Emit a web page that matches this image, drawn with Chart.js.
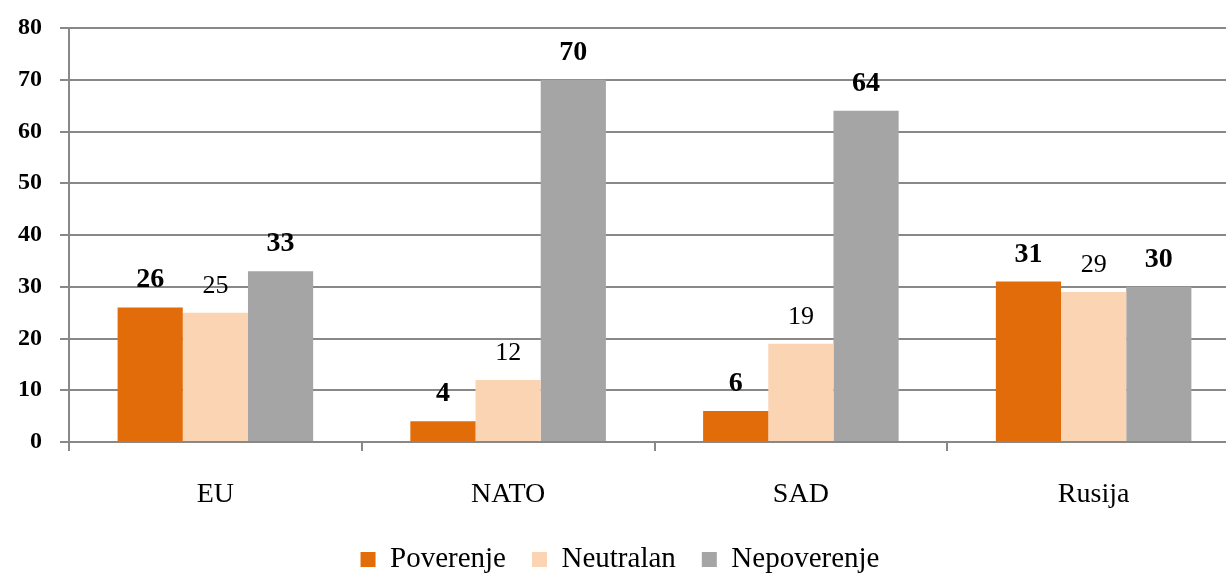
<!DOCTYPE html>
<html>
<head>
<meta charset="utf-8">
<script src="https://cdn.jsdelivr.net/npm/chart.js@4"></script>
<style>
  html, body { margin: 0; padding: 0; overflow: hidden; background: #fff; }
</style>
</head>
<body>
<canvas id="barChart" width="1240" height="574"></canvas>
<script>
var categories = ["EU", "NATO", "SAD", "Rusija"];
var poverenje = [26, 4, 6, 31];
var neutralan = [25, 12, 19, 29];
var nepoverenje = [33, 70, 64, 30];
var yTicks = [0, 10, 20, 30, 40, 50, 60, 70, 80];

var FONT = "'Liberation Serif', 'DejaVu Serif', serif";

// vrednosti iznad stubova
var valueLabels = {
  id: "valueLabels",
  afterDatasetsDraw: function (chart) {
    var ctx = chart.ctx;
    chart.data.datasets.forEach(function (ds, i) {
      var meta = chart.getDatasetMeta(i);
      var bold = i !== 1;
      meta.data.forEach(function (bar, j) {
        ctx.save();
        ctx.fillStyle = "#000";
        ctx.textAlign = "center";
        ctx.textBaseline = "alphabetic";
        ctx.font = (bold ? "bold 28px " : "26px ") + FONT;
        ctx.fillText(ds.data[j], bar.x, bar.y - 20);
        ctx.restore();
      });
    });
  },
};

var ctx = document.getElementById("barChart").getContext("2d");
var barChart = new Chart(ctx, {
  type: "bar",
  data: {
    labels: categories,
    datasets: [
      { label: "Poverenje", data: poverenje, backgroundColor: "#E36C0A" },
      { label: "Neutralan", data: neutralan, backgroundColor: "#FBD4B4" },
      { label: "Nepoverenje", data: nepoverenje, backgroundColor: "#A5A5A5" },
    ],
  },
  options: {
    responsive: false,
    animation: false,
    categoryPercentage: 0.668,
    barPercentage: 1,
    layout: { padding: { top: 28, left: 0, right: 0, bottom: -10 } },
    scales: {
      x: {
        grid: {
          display: true,
          drawOnChartArea: false,
          offset: true,
          color: "#888",
          lineWidth: 2,
          tickLength: 9,
        },
        border: { display: true, color: "#888", width: 2 },
        ticks: { color: "#000", font: { family: FONT, size: 28 }, padding: 27 },
        afterFit: function (scale) { scale.height = 77; },
      },
      y: {
        min: 0,
        max: 80,
        afterBuildTicks: function (scale) {
          scale.ticks = yTicks.map(function (v) { return { value: v }; });
        },
        grid: { color: "#888", lineWidth: 2, tickLength: 9 },
        border: { display: true, color: "#888", width: 2 },
        ticks: { color: "#000", font: { family: FONT, size: 24, weight: "bold" }, padding: 18 },
        afterFit: function (scale) {
          scale.width = 69;
          scale.paddingTop = 0;
          scale.paddingBottom = 0;
        },
      },
    },
    plugins: {
      legend: {
        position: "bottom",
        labels: {
          color: "#000",
          font: { family: FONT, size: 29 },
          boxWidth: 15,
          boxHeight: 15,
          padding: 26,
        },
      },
      tooltip: { enabled: false },
    },
  },
  plugins: [valueLabels],
});
</script>
</body>
</html>
